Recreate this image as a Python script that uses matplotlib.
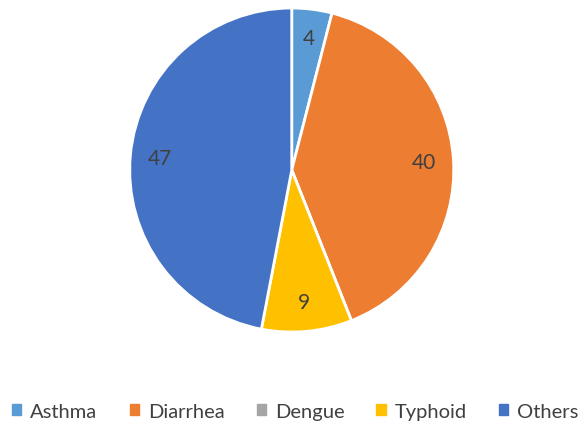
import matplotlib.pyplot as plt
import numpy as np

plt.rcParams['font.family'] = ['Lato', 'DejaVu Sans']

# Data
diseases = ['Asthma', 'Diarrhea', 'Dengue', 'Typhoid', 'Others']
counts = [4, 40, 0, 9, 47]
colors = ['#5B9BD5', '#ED7D31', '#A5A5A5', '#FFC000', '#4472C4']

fig = plt.figure(figsize=(5.87, 4.27), dpi=100)
ax = fig.add_axes([0.221, 0.220, 0.552, 0.759])

wedges, _ = ax.pie(counts, colors=colors, startangle=90, counterclock=False,
                   wedgeprops=dict(edgecolor='white', linewidth=2))

# value labels, skip the empty slice
for w, v in zip(wedges, counts):
    if v == 0:
        continue
    ang = np.deg2rad((w.theta1 + w.theta2) / 2)
    ax.text(0.82 * np.cos(ang), 0.82 * np.sin(ang), str(v),
            ha='center', va='center', fontsize=15, color='#404040')

ax.set_xlim(-1, 1)
ax.set_ylim(-1, 1)
ax.set_aspect('equal')

handles = [plt.Rectangle((0, 0), 1, 1, color=c) for c in colors]
fig.legend(handles, diseases, loc='center', bbox_to_anchor=(0.503, 0.035),
           ncol=5, frameon=False, fontsize=14.5, labelcolor='#404040',
           handlelength=0.45, handleheight=0.45, handletextpad=0.45,
           columnspacing=1.6)

fig.savefig('out.png', dpi=100)
